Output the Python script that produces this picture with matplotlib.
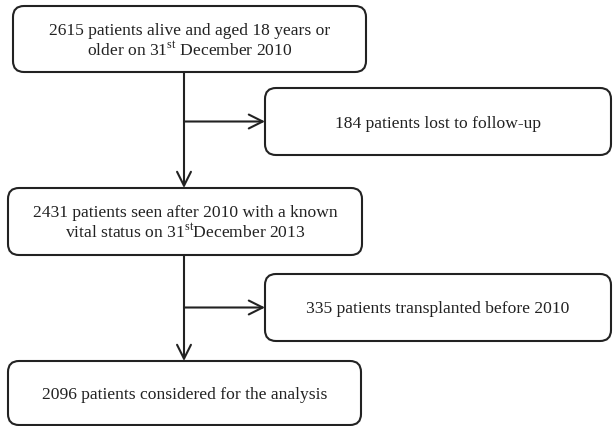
import matplotlib.pyplot as plt
from matplotlib.patches import FancyBboxPatch

plt.rcParams['font.family'] = 'Liberation Serif'
plt.rcParams['mathtext.fontset'] = 'custom'
plt.rcParams['mathtext.rm'] = 'Liberation Serif'

# box texts
main_texts = [
    "2615 patients alive and aged 18 years or\nolder on 31$^{\\mathrm{st}}$ December 2010",
    "2431 patients seen after 2010 with a known\nvital status on 31$^{\\mathrm{st}}$December 2013",
    "2096 patients considered for the analysis",
]
side_texts = [
    "184 patients lost to follow-up",
    "335 patients transplanted before 2010",
]

# layout in pixels (x0, y0, x1, y1)
main_boxes = [(13, 7, 366, 73), (8, 189, 362, 256), (8, 362, 361, 426)]
side_boxes = [(265, 89, 611, 156), (265, 275, 611, 342)]
trunk_x = 184

fig = plt.figure(figsize=(6.14, 4.27), dpi=100)
ax = fig.add_axes([0, 0, 1, 1])
ax.set_xlim(0, 614)
ax.set_ylim(427, 0)
ax.axis("off")

def draw_box(b, txt):
    x0, y0, x1, y1 = b
    r = 11
    p = FancyBboxPatch((x0 + r, y0 + r), x1 - x0 - 2 * r, y1 - y0 - 2 * r,
                       boxstyle=f"round,pad={r},rounding_size={r}",
                       fc="white", ec="#222222", lw=1.5)
    ax.add_patch(p)
    ax.text((x0 + x1) / 2, (y0 + y1) / 2 + 1, txt, ha="center", va="center",
            fontsize=12.6, color="#222222", linespacing=1.1)

for b, t in zip(main_boxes, main_texts):
    draw_box(b, t)
for b, t in zip(side_boxes, side_texts):
    draw_box(b, t)

arrow = dict(arrowstyle="->,head_length=1.0,head_width=0.5", color="#222222", lw=1.5,
             shrinkA=0, shrinkB=0)

# vertical arrows between main boxes
for a, b in zip(main_boxes[:-1], main_boxes[1:]):
    ax.annotate("", xy=(trunk_x, b[1]), xytext=(trunk_x, a[3]), arrowprops=arrow)

# side arrows
for s in side_boxes:
    ym = (s[1] + s[3]) / 2
    ax.annotate("", xy=(s[0], ym), xytext=(trunk_x, ym), arrowprops=arrow)

fig.savefig("out.png", dpi=100)
